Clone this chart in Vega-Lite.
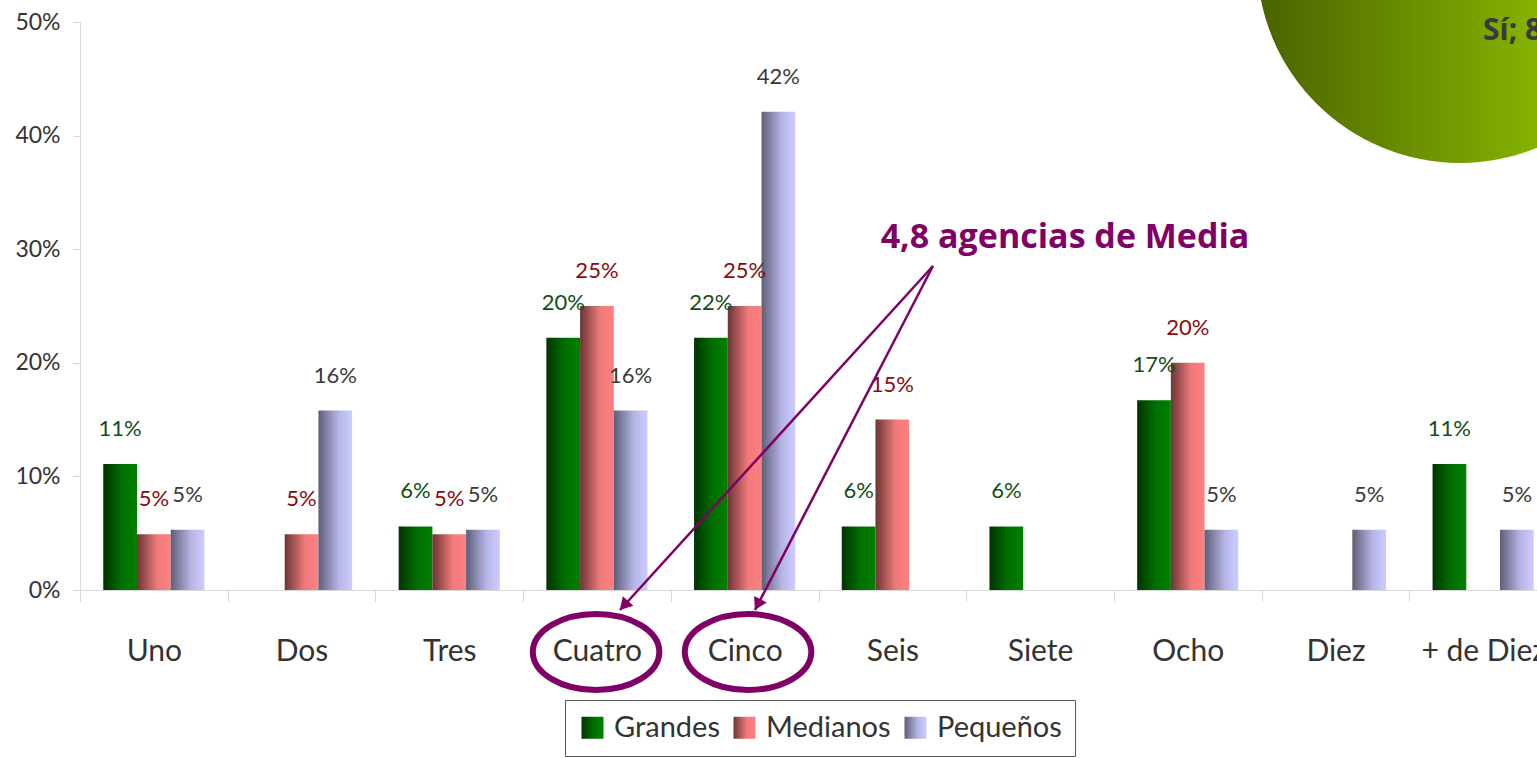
{
  "$schema": "https://vega.github.io/schema/vega-lite/v6.json",
  "width": 1457,
  "height": 568,
  "autosize": {"type": "none"},
  "padding": {"left": 80, "top": 22, "right": 0, "bottom": 168},
  "background": "white",
  "config": {
    "view": {"stroke": null},
    "font": "Lato",
    "text": {"font": "Lato"}
  },
  "layer": [
    {
      "data": {
        "values": [
          {"cat": "Uno", "series": "Grandes", "value": 11.1, "label": "11%"},
          {"cat": "Uno", "series": "Medianos", "value": 4.9, "label": "5%"},
          {"cat": "Uno", "series": "Pequeños", "value": 5.3, "label": "5%"},
          {"cat": "Dos", "series": "Medianos", "value": 4.9, "label": "5%"},
          {"cat": "Dos", "series": "Pequeños", "value": 15.8, "label": "16%"},
          {"cat": "Tres", "series": "Grandes", "value": 5.6, "label": "6%"},
          {"cat": "Tres", "series": "Medianos", "value": 4.9, "label": "5%"},
          {"cat": "Tres", "series": "Pequeños", "value": 5.3, "label": "5%"},
          {"cat": "Cuatro", "series": "Grandes", "value": 22.2, "label": "20%"},
          {"cat": "Cuatro", "series": "Medianos", "value": 25.0, "label": "25%"},
          {"cat": "Cuatro", "series": "Pequeños", "value": 15.8, "label": "16%"},
          {"cat": "Cinco", "series": "Grandes", "value": 22.2, "label": "22%"},
          {"cat": "Cinco", "series": "Medianos", "value": 25.0, "label": "25%"},
          {"cat": "Cinco", "series": "Pequeños", "value": 42.1, "label": "42%"},
          {"cat": "Seis", "series": "Grandes", "value": 5.6, "label": "6%"},
          {"cat": "Seis", "series": "Medianos", "value": 15.0, "label": "15%"},
          {"cat": "Siete", "series": "Grandes", "value": 5.6, "label": "6%"},
          {"cat": "Ocho", "series": "Grandes", "value": 16.7, "label": "17%"},
          {"cat": "Ocho", "series": "Medianos", "value": 20.0, "label": "20%"},
          {"cat": "Ocho", "series": "Pequeños", "value": 5.3, "label": "5%"},
          {"cat": "Diez", "series": "Pequeños", "value": 5.3, "label": "5%"},
          {"cat": "+ de Diez", "series": "Grandes", "value": 11.1, "label": "11%"},
          {"cat": "+ de Diez", "series": "Pequeños", "value": 5.3, "label": "5%"}
        ]
      },
      "encoding": {
        "x": {
          "field": "cat",
          "type": "nominal",
          "sort": ["Uno", "Dos", "Tres", "Cuatro", "Cinco", "Seis", "Siete", "Ocho", "Diez", "+ de Diez"],
          "scale": {
            "domain": ["Uno", "Dos", "Tres", "Cuatro", "Cinco", "Seis", "Siete", "Ocho", "Diez", "+ de Diez"],
            "range": [0, 1477],
            "paddingInner": 0,
            "paddingOuter": 0
          },
          "axis": {
            "title": null,
            "labelAngle": 0,
            "tickBand": "extent",
            "tickSize": 12,
            "labelBaseline": "middle",
            "labelPadding": 49,
            "labelFontSize": 30,
            "labelFont": "Lato",
            "labelColor": "#333333",
            "domainColor": "#d9d9d9",
            "tickColor": "#d9d9d9",
            "grid": false
          }
        },
        "xOffset": {
          "field": "series",
          "type": "nominal",
          "scale": {"domain": ["Grandes", "Medianos", "Pequeños"], "paddingInner": 0, "paddingOuter": 0.69}
        },
        "y": {
          "field": "value",
          "type": "quantitative",
          "scale": {"domain": [0, 50], "nice": false},
          "axis": {
            "title": null,
            "values": [0, 10, 20, 30, 40, 50],
            "labelExpr": "datum.value + '%'",
            "grid": false,
            "tickSize": 7,
            "labelPadding": 13,
            "labelFontSize": 23,
            "labelFont": "Lato",
            "labelColor": "#333333",
            "domainColor": "#d9d9d9",
            "tickColor": "#d9d9d9"
          }
        }
      },
      "layer": [
        {
          "mark": {"type": "bar", "strokeWidth": 0},
          "encoding": {
            "color": {
              "field": "series",
              "type": "nominal",
              "scale": {
                "domain": ["Grandes", "Medianos", "Pequeños"],
                "range": [
                  {"expr": "{gradient: 'linear', x1: 0, y1: 0, x2: 1, y2: 0, stops: [{offset: 0, color: '#003300'}, {offset: 0.55, color: '#007000'}, {offset: 1, color: '#008000'}]}"},
                  {"expr": "{gradient: 'linear', x1: 0, y1: 0, x2: 1, y2: 0, stops: [{offset: 0, color: '#6b3535'}, {offset: 0.6, color: '#f07a7a'}, {offset: 1, color: '#ff8080'}]}"},
                  {"expr": "{gradient: 'linear', x1: 0, y1: 0, x2: 1, y2: 0, stops: [{offset: 0, color: '#5e5e78'}, {offset: 0.6, color: '#b5b5e6'}, {offset: 1, color: '#ccccff'}]}"}
                ]
              },
              "legend": {
                "title": null,
                "orient": "none",
                "legendX": 485,
                "legendY": 678,
                "direction": "horizontal",
                "symbolType": "square",
                "symbolSize": 484,
                "symbolStrokeWidth": 0,
                "symbolOpacity": 1,
                "labelFontSize": 29,
                "labelFont": "Lato",
                "labelColor": "#333333",
                "labelOffset": 7,
                "columnPadding": 10,
                "padding": 13,
                "strokeColor": "#595959"
              }
            }
          }
        },
        {
          "mark": {"type": "text", "dy": -35, "baseline": "middle", "align": "center", "fontSize": 22, "font": "Lato"},
          "encoding": {
            "text": {"field": "label"},
            "color": {
              "condition": [
                {"test": "datum.series === 'Grandes'", "value": "#124f12"},
                {"test": "datum.series === 'Medianos'", "value": "#8c0a0a"}
              ],
              "value": "#3a3a3a"
            }
          }
        }
      ]
    },
    {
      "layer": [
        {
          "data": {"values": [{"u": 9.343, "v": 55.46}]},
          "mark": {
            "type": "point",
            "shape": "circle",
            "filled": true,
            "size": 164836,
            "opacity": 1,
            "strokeWidth": 0,
            "fill": {"gradient": "linear", "x1": 0, "y1": 0, "x2": 1, "y2": 0, "stops": [{"offset": 0, "color": "#4a6200"}, {"offset": 0.7, "color": "#86b400"}, {"offset": 1, "color": "#90c000"}]}
          },
          "encoding": {
            "x": {"field": "u", "type": "quantitative", "scale": {"domain": [0, 10], "range": [0, 1477], "nice": false, "zero": false}, "axis": null},
            "y": {"field": "v", "type": "quantitative", "scale": {"domain": [0, 50], "nice": false}}
          }
        },
        {
          "data": {"values": [{"u": 9.499, "v": 49.21, "t": "Sí; 8"}]},
          "mark": {"type": "text", "align": "left", "baseline": "middle", "fontSize": 30, "fontWeight": "bold", "font": "Open Sans", "color": "#3a3a3a"},
          "encoding": {
            "x": {"field": "u", "type": "quantitative", "scale": {"domain": [0, 10], "range": [0, 1477], "nice": false, "zero": false}, "axis": null},
            "y": {"field": "v", "type": "quantitative", "scale": {"domain": [0, 50], "nice": false}},
            "text": {"field": "t"}
          }
        },
        {
          "data": {"values": [{"u": 5.775, "v": 28.52, "u2": 3.656, "v2": -1.76}, {"u": 5.775, "v": 28.52, "u2": 4.57, "v2": -1.76}]},
          "mark": {"type": "rule", "color": "#800066", "strokeWidth": 2.5},
          "encoding": {
            "x": {"field": "u", "type": "quantitative", "scale": {"domain": [0, 10], "range": [0, 1477], "nice": false, "zero": false}, "axis": null},
            "y": {"field": "v", "type": "quantitative", "scale": {"domain": [0, 50], "nice": false}},
            "x2": {"field": "u2"},
            "y2": {"field": "v2"}
          }
        },
        {
          "data": {"values": [{"u": 3.683, "v": -1.37}]},
          "mark": {"type": "point", "shape": "triangle-up", "filled": true, "size": 200, "angle": 222, "color": "#800066", "opacity": 1},
          "encoding": {
            "x": {"field": "u", "type": "quantitative", "scale": {"domain": [0, 10], "range": [0, 1477], "nice": false, "zero": false}, "axis": null},
            "y": {"field": "v", "type": "quantitative", "scale": {"domain": [0, 50], "nice": false}}
          }
        },
        {
          "data": {"values": [{"u": 4.588, "v": -1.29}]},
          "mark": {"type": "point", "shape": "triangle-up", "filled": true, "size": 200, "angle": 207, "color": "#800066", "opacity": 1},
          "encoding": {
            "x": {"field": "u", "type": "quantitative", "scale": {"domain": [0, 10], "range": [0, 1477], "nice": false, "zero": false}, "axis": null},
            "y": {"field": "v", "type": "quantitative", "scale": {"domain": [0, 50], "nice": false}}
          }
        },
        {
          "data": {"values": [{"u": 3.494, "v": -5.46}, {"u": 4.523, "v": -5.46}]},
          "mark": {"type": "point", "shape": "M -1 0 A 1 0.6 0 1 1 1 0 A 1 0.6 0 1 1 -1 0 Z", "filled": false, "size": 16000, "stroke": "#800066", "strokeWidth": 6, "opacity": 1},
          "encoding": {
            "x": {"field": "u", "type": "quantitative", "scale": {"domain": [0, 10], "range": [0, 1477], "nice": false, "zero": false}, "axis": null},
            "y": {"field": "v", "type": "quantitative", "scale": {"domain": [0, 50], "nice": false}}
          }
        },
        {
          "data": {"values": [{"u": 6.669, "v": 30.99, "t": "4,8 agencias de Media"}]},
          "mark": {"type": "text", "align": "center", "baseline": "middle", "fontSize": 34, "fontWeight": "bold", "font": "Open Sans", "color": "#800066"},
          "encoding": {
            "x": {"field": "u", "type": "quantitative", "scale": {"domain": [0, 10], "range": [0, 1477], "nice": false, "zero": false}, "axis": null},
            "y": {"field": "v", "type": "quantitative", "scale": {"domain": [0, 50], "nice": false}},
            "text": {"field": "t"}
          }
        }
      ]
    }
  ],
  "resolve": {"scale": {"x": "independent"}}
}
